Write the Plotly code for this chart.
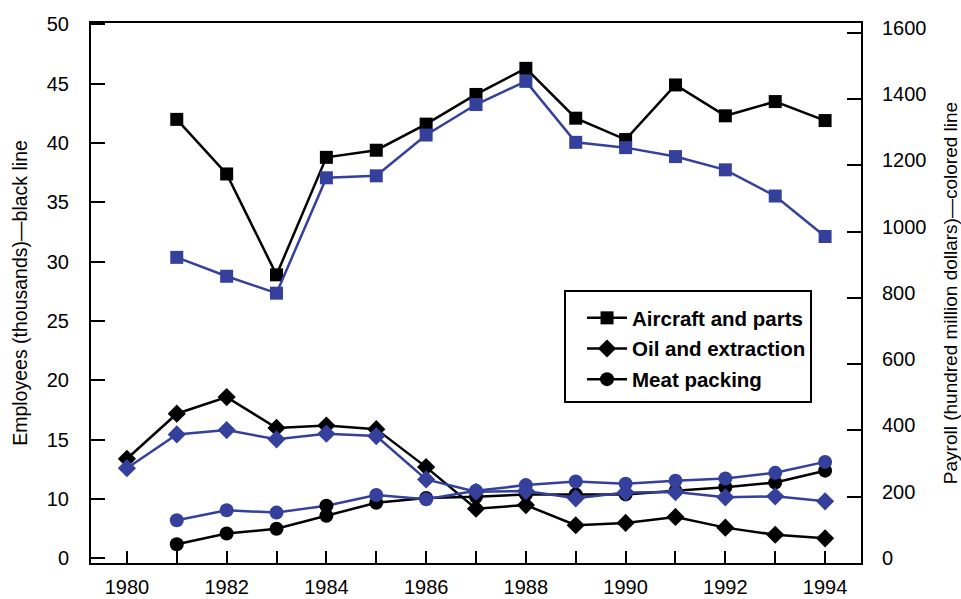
import plotly.graph_objects as go

years_aircraft = [1981, 1982, 1983, 1984, 1985, 1986, 1987, 1988, 1989, 1990, 1991, 1992, 1993, 1994]
years_oil = [1980, 1981, 1982, 1983, 1984, 1985, 1986, 1987, 1988, 1989, 1990, 1991, 1992, 1993, 1994]
years_meat = [1981, 1982, 1983, 1984, 1985, 1986, 1987, 1988, 1989, 1990, 1991, 1992, 1993, 1994]

aircraft_employees = [42.0, 37.4, 28.9, 38.8, 39.4, 41.6, 44.1, 46.3, 42.1, 40.3, 44.9, 42.3, 43.5, 41.9]
aircraft_payroll = [922, 865, 814, 1162, 1168, 1291, 1383, 1453, 1269, 1253, 1226, 1186, 1107, 985]

oil_employees = [13.4, 17.2, 18.6, 16.0, 16.2, 15.9, 12.7, 9.2, 9.5, 7.8, 8.0, 8.5, 7.6, 7.0, 6.7]
oil_payroll = [286, 388, 401, 373, 390, 383, 252, 215, 217, 195, 213, 214, 198, 201, 186]

meat_employees = [6.2, 7.1, 7.5, 8.6, 9.7, 10.1, 10.2, 10.4, 10.4, 10.4, 10.7, 11.0, 11.4, 12.4]
meat_payroll = [129, 159, 152, 173, 205, 192, 218, 235, 246, 239, 248, 255, 272, 305]

left_tick_vals = [5, 10, 15, 20, 25, 30, 35, 40, 45, 50]
left_tick_text = ["0", "10", "15", "20", "25", "30", "35", "40", "45", "50"]
right_tick_vals = [0, 200, 400, 600, 800, 1000, 1200, 1400, 1600]

BLACK = "#000000"
BLUE = "#34409c"
FONT = "Liberation Sans, Arial, Helvetica, sans-serif"

fig = go.Figure()

# payroll (colored) lines on right axis
meat_colors = [BLUE] * len(meat_payroll)
meat_colors[years_meat.index(1984)] = BLACK
for x, y, sym, size, cols in [
    (years_aircraft, aircraft_payroll, "square", 13, BLUE),
    (years_oil, oil_payroll, "diamond", 14, BLUE),
    (years_meat, meat_payroll, "circle", 14, meat_colors),
]:
    fig.add_trace(go.Scatter(
        x=x, y=y, yaxis="y2", mode="lines+markers", showlegend=False,
        line=dict(color=BLUE, width=2.5),
        marker=dict(symbol=sym, size=size, color=cols, line=dict(width=0)),
    ))

# employees (black) lines on left axis
for i, (x, y, sym, size, name) in enumerate([
    (years_aircraft, aircraft_employees, "square", 13, "Aircraft and parts"),
    (years_oil, oil_employees, "diamond", 14, "Oil and extraction"),
    (years_meat, meat_employees, "circle", 14, "Meat packing"),
]):
    fig.add_trace(go.Scatter(
        x=x, y=y, yaxis="y", mode="lines+markers", name=name, legendgroup=f"g{i}",
        line=dict(color=BLACK, width=2.5),
        marker=dict(symbol=sym, size=size, color=BLACK, line=dict(width=0)),
    ))

# legend frame
fig.add_shape(type="rect", xref="paper", yref="paper",
              x0=0.6156, x1=0.9351, y0=0.2981, y1=0.5037,
              line=dict(color="black", width=2), fillcolor="white", layer="above")

fig.update_layout(
    width=961, height=599,
    margin=dict(l=91, r=100, t=23, b=36),
    paper_bgcolor="white", plot_bgcolor="white",
    font=dict(family=FONT, size=20, color="black"),
    xaxis=dict(
        range=[1979.28, 1994.72], tickmode="linear", tick0=1980, dtick=2,
        ticks="inside", ticklen=12, tickwidth=2, tickcolor="black",
        minor=dict(dtick=1, ticks="inside", ticklen=12, tickwidth=2, tickcolor="black"),
        showline=True, linewidth=2, linecolor="black", mirror=True,
        showgrid=False, zeroline=False, ticklabelstandoff=5, automargin=False,
        tickfont=dict(size=20),
    ),
    yaxis=dict(
        range=[4.62, 50.12], tickvals=left_tick_vals, ticktext=left_tick_text,
        ticks="inside", ticklen=14, tickwidth=2, tickcolor="black",
        showline=True, linewidth=2, linecolor="black",
        showgrid=False, zeroline=False, ticklabelstandoff=16, automargin=False,
        title=dict(text="Employees (thousands)\u2014black line", font=dict(size=19.5), standoff=14),
        tickfont=dict(size=20),
    ),
    yaxis2=dict(
        range=[0, 1629], tickvals=right_tick_vals, overlaying="y", side="right",
        ticks="inside", ticklen=14, tickwidth=2, tickcolor="black",
        showline=True, linewidth=2, linecolor="black",
        showgrid=False, zeroline=False, ticklabelstandoff=15, automargin=False,
        ticklabelshift=-5,
        title=dict(text="Payroll (hundred million dollars)\u2014colored line", font=dict(size=19), standoff=18),
        tickfont=dict(size=20),
    ),
    legend=dict(
        x=0.6377, y=0.4907, xanchor="left", yanchor="top",
        bgcolor="rgba(0,0,0,0)", borderwidth=0,
        font=dict(family=FONT, size=20.5, color="black", weight="bold"),
        traceorder="grouped", tracegroupgap=1, itemwidth=40,
    ),
)

fig.write_html("out.html", config={"displayModeBar": False},
               post_script="document.body.style.margin='0';document.body.style.overflow='hidden';")
